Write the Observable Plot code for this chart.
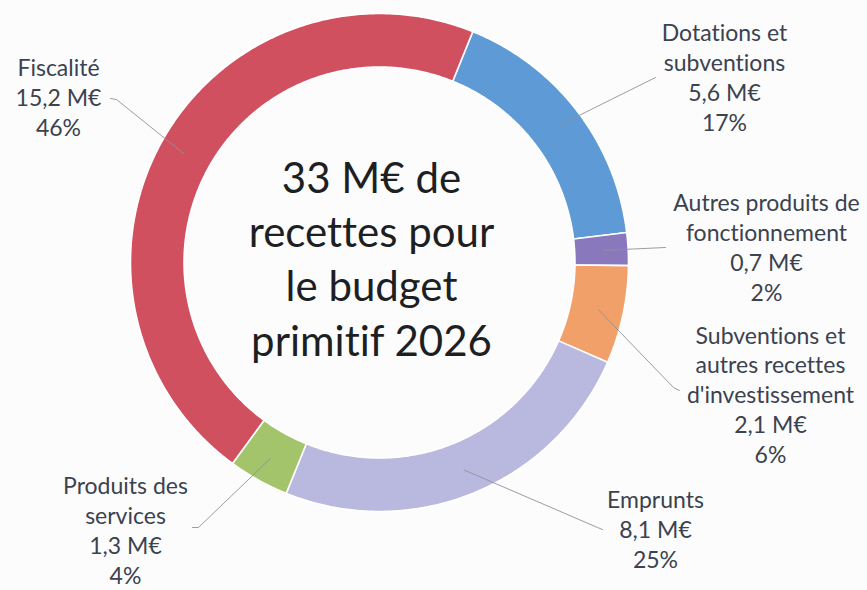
<!DOCTYPE html>
<html><head><meta charset="utf-8">
<script src="https://cdn.jsdelivr.net/npm/d3@7"></script>
<script src="https://cdn.jsdelivr.net/npm/@observablehq/plot@0.6"></script>
<style>html,body{margin:0;padding:0;background:#fcfcfc;} #chart svg{display:block;} #chart svg text{font-variant-ligatures:none;font-feature-settings:"liga" 0,"clig" 0;}</style>
</head><body><div id="chart"></div>
<script>
// ---- data ----
const categories = ["Dotations et subventions","Autres produits de fonctionnement","Subventions et autres recettes d'investissement","Emprunts","Produits des services","Fiscalité"];
const nameLines = [["Dotations et","subventions"],["Autres produits de","fonctionnement"],["Subventions et","autres recettes","d'investissement"],["Emprunts"],["Produits des","services"],["Fiscalité"]];
const values = [5.6, 0.7, 2.1, 8.1, 1.3, 15.2];
const valueLabels = ["5,6 M€","0,7 M€","2,1 M€","8,1 M€","1,3 M€","15,2 M€"];
const percentLabels = ["17%","2%","6%","25%","4%","46%"];
const colors = ["#5e9ad6","#8a78bd","#f2a06a","#b9b8de","#a4c46c","#d1505f"];
const centerTitle = ["33 M€ de","recettes pour","le budget","primitif 2026"];

// ---- layout (pixels) ----
const W = 867, H = 590, cx = 379, cy = 262, R = 249, innerRatio = 0.785, startDeg = 22;
const labelPos = [[724,130],[766,300],[770,462],[655,567],[125,583],[58,135]]; // center x, last baseline
const leaderEnd = [[[655,77]],[[665,247]],[[673,387],[679,390]],[[597,527],[602,529]],[[198,527],[192,527]],[[116,99],[110,98]]];
const centerPos = [371, 355];

const dx = px => (px - cx) / R;
const dy = py => (cy - py) / R;

const total = d3.sum(values);
let acc = 0;
const slices = values.map((v, i) => {
  const a0 = startDeg + acc / total * 360; acc += v;
  const a1 = startDeg + acc / total * 360;
  return {i, cat: categories[i], a0, a1};
});
const pt = (deg, r) => { const t = deg * Math.PI / 180; return [r * Math.sin(t), r * Math.cos(t)]; };

const ringPts = [];
for (const s of slices) {
  const n = Math.max(4, Math.ceil((s.a1 - s.a0) / 0.5));
  for (let k = 0; k <= n; k++) { const [x,y] = pt(s.a0 + (s.a1 - s.a0) * k / n, 1); ringPts.push({cat: s.cat, x, y}); }
  for (let k = n; k >= 0; k--) { const [x,y] = pt(s.a0 + (s.a1 - s.a0) * k / n, innerRatio); ringPts.push({cat: s.cat, x, y}); }
}

const leaderPts = [];
slices.forEach((s, i) => {
  const [x0, y0] = pt((s.a0 + s.a1) / 2, 0.9);
  leaderPts.push({cat: s.cat, x: x0, y: y0});
  for (const [px, py] of leaderEnd[i]) leaderPts.push({cat: s.cat, x: dx(px), y: dy(py)});
});

const labels = slices.map((s, i) => ({
  text: [...nameLines[i], valueLabels[i], percentLabels[i]].join("\n"),
  x: dx(labelPos[i][0]), y: dy(labelPos[i][1])
}));

const fs = 23;
const chart = Plot.plot({
  width: W, height: H, margin: 0,
  style: {background: "#fcfcfc", fontFamily: "Lato, sans-serif"},
  x: {domain: [dx(0), dx(W)], range: [0, W], axis: null},
  y: {domain: [dy(H), dy(0)], range: [H, 0], axis: null},
  color: {domain: categories, range: colors},
  marks: [
    Plot.line(ringPts, {x: "x", y: "y", z: "cat", fill: "cat", stroke: "white", strokeWidth: 1.6, curve: "linear-closed"}),
    Plot.line(leaderPts, {x: "x", y: "y", z: "cat", stroke: "#8f9296", strokeWidth: 0.9}),
    Plot.text(labels, {x: "x", y: "y", text: "text", lineAnchor: "bottom", textAnchor: "middle", fontSize: fs, lineHeight: 29.7 / fs, fill: "#3b4250", fontFamily: "Lato"}),
    Plot.text([centerTitle.join("\n")], {x: dx(centerPos[0]), y: dy(centerPos[1]), text: d => d, lineAnchor: "bottom", textAnchor: "middle", fontSize: 42, lineHeight: 54.3 / 42, fill: "#1e1f22", fontFamily: "Lato"})
  ]
});
document.getElementById("chart").append(chart);
</script>
</body></html>
